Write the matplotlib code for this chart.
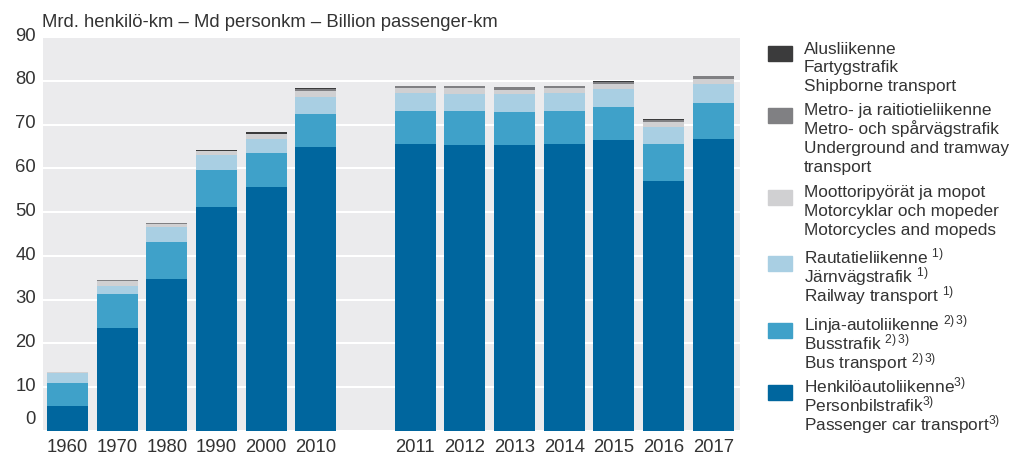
import numpy as np
import matplotlib.pyplot as plt
from matplotlib.patches import Rectangle
from matplotlib.transforms import ScaledTranslation

plt.rcParams['font.family'] = ['Liberation Sans', 'DejaVu Sans']
plt.rcParams['mathtext.fontset'] = 'custom'
plt.rcParams['mathtext.rm'] = 'Liberation Sans'
plt.rcParams['mathtext.default'] = 'regular'

# data (billion passenger-km)
years = ['1960', '1970', '1980', '1990', '2000', '2010',
         '2011', '2012', '2013', '2014', '2015', '2016', '2017']
car = [5.8, 23.6, 34.7, 51.2, 55.7, 64.8, 65.5, 65.4, 65.3, 65.5, 66.4, 57.0, 66.7]
bus = [5.1, 7.6, 8.5, 8.5, 7.8, 7.6, 7.7, 7.6, 7.5, 7.7, 7.6, 8.5, 8.2]
rail = [2.4, 2.0, 3.3, 3.3, 3.3, 3.9, 3.9, 4.0, 4.1, 3.9, 4.1, 3.9, 4.3]
moto = [0.2, 1.1, 0.8, 0.9, 1.0, 1.3, 1.2, 1.3, 1.1, 1.2, 1.2, 1.1, 1.3]
metro = [0.0, 0.1, 0.1, 0.1, 0.1, 0.6, 0.5, 0.5, 0.5, 0.5, 0.5, 0.6, 0.6]
ship = [0.0, 0.2, 0.2, 0.2, 0.3, 0.1, 0.1, 0.1, 0.1, 0.1, 0.1, 0.1, 0.1]

# gap of one slot between 2010 and 2011
xpos = [0, 1, 2, 3, 4, 5, 7, 8, 9, 10, 11, 12, 13]

series = [car, bus, rail, moto, metro, ship]
colors = ['#00669e', '#3fa1c9', '#a9cfe3', '#d0d0d2', '#808083', '#3b3b3c']
labels = [
    ['Henkilöautoliikenne$^{3)}$', 'Personbilstrafik$^{3)}$', 'Passenger car transport$^{3)}$'],
    ['Linja-autoliikenne $^{2)\\,3)}$', 'Busstrafik $^{2)\\,3)}$', 'Bus transport $^{2)\\,3)}$'],
    ['Rautatieliikenne $^{1)}$', 'Järnvägstrafik $^{1)}$', 'Railway transport $^{1)}$'],
    ['Moottoripyörät ja mopot', 'Motorcyklar och mopeder', 'Motorcycles and mopeds'],
    ['Metro- ja raitiotieliikenne', 'Metro- och spårvägstrafik',
     'Underground and tramway', 'transport'],
    ['Alusliikenne', 'Fartygstrafik', 'Shipborne transport'],
]

W, H = 1009, 455
fig = plt.figure(figsize=(W / 100, H / 100), dpi=100)
ax = fig.add_axes([43 / W, 24 / H, 697 / W, 394 / H])
ax.set_facecolor('#ebebed')

bottom = np.zeros(len(years))
for vals, c in zip(series, colors):
    ax.bar(xpos, vals, width=0.825, bottom=bottom, color=c, zorder=3, linewidth=0)
    bottom += np.array(vals)

ax.set_ylim(0, 90)
ax.set_xlim(-0.49, 13.54)
ax.set_yticks(range(0, 91, 10))
ax.set_xticks(xpos)
ax.set_xticklabels(years)
ax.yaxis.grid(True, color='white', linewidth=1.5, zorder=1)
ax.tick_params(length=0, labelsize=13.3, colors='#333333')
ax.tick_params(axis='x', pad=6)
ax.tick_params(axis='y', pad=5)
for s in ax.spines.values():
    s.set_visible(False)

# y labels sit slightly above their gridlines, the 0 label more so
for t in ax.get_yticklabels():
    dy = 10 / 72 if t.get_text() == '0' else 2 / 72
    t.set_transform(t.get_transform() + ScaledTranslation(0, dy, fig.dpi_scale_trans))

fig.text(42 / W, 1 - 27 / H, 'Mrd. henkilö-km – Md personkm – Billion passenger-km',
         fontsize=13.3, color='#333333', va='baseline')

# legend, drawn by hand (top entry first)
patch_tops = [46, 108, 190, 256, 323, 385]
order = [5, 4, 3, 2, 1, 0]
for top, i in zip(patch_tops, order):
    fig.patches.append(Rectangle((768 / W, 1 - (top + 15) / H), 24 / W, 15 / H,
                                 transform=fig.transFigure, color=colors[i]))
    for k, line in enumerate(labels[i]):
        base = top + 7.5 + k * 18.8
        fig.text(804 / W, 1 - base / H, line, fontsize=12.4, va='baseline',
                 ha='left', color='#333333')

fig.savefig('out.png', dpi=100)
